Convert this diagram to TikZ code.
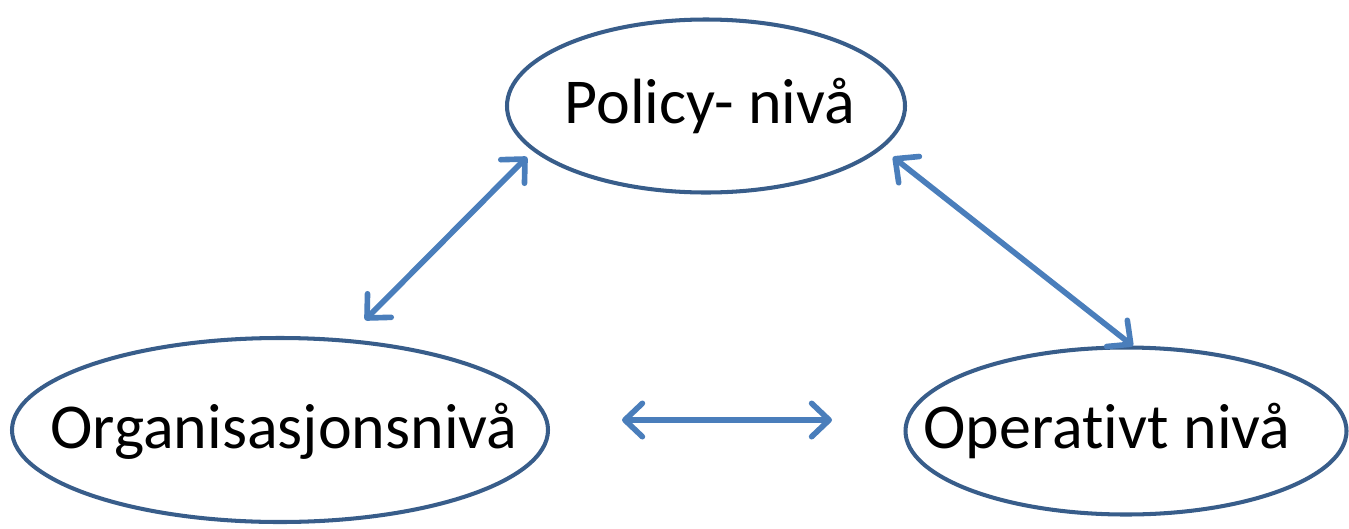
\documentclass[tikz,border=0pt]{standalone}
\usepackage{fontspec}
\setmainfont[Ligatures=NoCommon]{Carlito}
\usetikzlibrary{shapes.geometric,arrows.meta}
\definecolor{ringblue}{HTML}{385D8A}
\definecolor{arrowblue}{HTML}{4A7EBB}

\begin{document}
\begin{tikzpicture}[x=0.02cm,y=-0.02cm,
    level node/.style={ellipse,draw=ringblue,line width=2.3pt,inner sep=0pt},
    level text/.style={font=\fontsize{36.4}{44}\selectfont},
    link/.style={arrowblue,line width=3.2pt,{Straight Barb[round,length=10pt,width=19pt]}-{Straight Barb[round,length=10pt,width=19pt]}}]

            \useasboundingbox (0,0) rectangle (1349,528);

            \node[level node, minimum width=398*0.02cm, minimum height=173*0.02cm] (policy) at (706,106) {};
            \node[level node, minimum width=536*0.02cm, minimum height=184*0.02cm] (org) at (280,430) {};
            \node[level node, minimum width=441*0.02cm, minimum height=167*0.02cm] (oper) at (1126,431) {};

            \node[level text] (policytext) at (710,106) {Policy- nivå};
            \node[level text] (orgtext) at (284,431) {Organisasjonsnivå};
            \node[level text] (opertext) at (1107,431) {Operativt nivå};

            \coordinate (p1) at (527,157);
            \coordinate (o1) at (365,320);
            \coordinate (p2) at (893,157);
            \coordinate (r2) at (1133,346);
            \coordinate (o3) at (622,420);
            \coordinate (r3) at (832,420);

            \draw[link] (p1) -- (o1);
            \draw[link] (p2) -- (r2);
            \draw[link] (o3) -- (r3);

        \end{tikzpicture}
\end{document}
